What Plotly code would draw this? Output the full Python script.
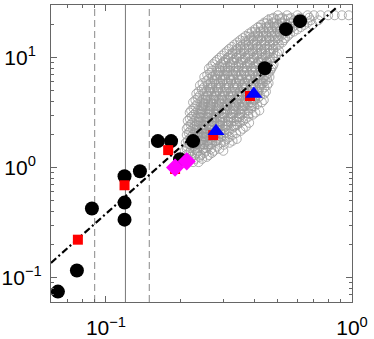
import plotly.graph_objects as go

# ---- data ----
black_x = [0.0638, 0.0762, 0.0877, 0.119, 0.119, 0.119, 0.1374, 0.1626, 0.184, 0.200, 0.226, 0.442, 0.539, 0.615]
black_y = [0.0746, 0.116, 0.424, 0.336, 0.48, 0.834, 0.925, 1.74, 1.74, 1.19, 1.74, 7.98, 18.1, 21.4]

red_x = [0.0769, 0.119, 0.179, 0.191, 0.273, 0.385]
red_y = [0.221, 0.69, 1.44, 0.97, 1.97, 4.47]

blue_x = [0.280, 0.399]
blue_y = [2.14, 4.66]

mag_x = [0.191, 0.213]
mag_y = [1.0, 1.14]

vline_dashed = [0.09, 0.15]
vline_solid = [0.12]

fit_coef = 38.0
fit_exp = 2.0
fit_x = [0.0598, 0.87]

grey_circle_rows = [
    (1.12, [0.226, 0.238]),
    (1.20, [0.216, 0.231, 0.246]),
    (1.25, [0.222, 0.240, 0.257]),
    (1.30, [0.212, 0.229, 0.243, 0.262]),
    (1.36, [0.218, 0.234, 0.251, 0.270]),
    (1.42, [0.209, 0.221, 0.236, 0.255, 0.275, 0.300]),
    (1.48, [0.213, 0.230, 0.248, 0.268, 0.289]),
    (1.55, [0.214, 0.227, 0.242, 0.261, 0.283]),
    (1.61, [0.219, 0.233, 0.250, 0.266, 0.301]),
    (1.68, [0.211, 0.224, 0.237, 0.252, 0.270, 0.292, 0.318]),
    (1.75, [0.215, 0.228, 0.243, 0.259, 0.279, 0.305, 0.327]),
    (1.82, [0.219, 0.233, 0.248, 0.266, 0.287, 0.310, 0.340]),
    (1.90, [0.222, 0.237, 0.254, 0.273, 0.294, 0.318]),
    (1.98, [0.213, 0.226, 0.241, 0.258, 0.277, 0.300, 0.327]),
    (2.06, [0.217, 0.231, 0.247, 0.264, 0.284, 0.308, 0.338]),
    (2.15, [0.220, 0.235, 0.251, 0.270, 0.292, 0.316, 0.352]),
    (2.25, [0.213, 0.226, 0.241, 0.257, 0.277, 0.298, 0.324, 0.360]),
    (2.35, [0.216, 0.229, 0.245, 0.263, 0.283, 0.305, 0.331, 0.370]),
    (2.45, [0.221, 0.234, 0.250, 0.269, 0.290, 0.313, 0.341]),
    (2.55, [0.224, 0.239, 0.256, 0.275, 0.297, 0.322, 0.350, 0.382]),
    (2.66, [0.215, 0.229, 0.244, 0.262, 0.282, 0.305, 0.331, 0.361]),
    (2.78, [0.219, 0.233, 0.249, 0.268, 0.289, 0.313, 0.340, 0.370]),
    (2.90, [0.223, 0.238, 0.255, 0.274, 0.296, 0.320, 0.348, 0.380]),
    (3.02, [0.227, 0.243, 0.261, 0.280, 0.303, 0.328, 0.357, 0.395]),
    (3.16, [0.219, 0.232, 0.248, 0.266, 0.287, 0.311, 0.337, 0.367, 0.405]),
    (3.30, [0.222, 0.237, 0.254, 0.273, 0.295, 0.319, 0.346, 0.378, 0.420]),
    (3.45, [0.227, 0.243, 0.260, 0.280, 0.303, 0.328, 0.356, 0.389]),
    (3.60, [0.231, 0.248, 0.267, 0.288, 0.311, 0.337, 0.366, 0.400]),
    (3.76, [0.235, 0.252, 0.273, 0.295, 0.320, 0.347, 0.377, 0.412]),
    (3.92, [0.226, 0.242, 0.260, 0.281, 0.304, 0.330, 0.358, 0.390, 0.430]),
    (4.10, [0.231, 0.247, 0.266, 0.288, 0.312, 0.338, 0.368, 0.402, 0.438]),
    (4.28, [0.236, 0.254, 0.274, 0.296, 0.321, 0.349, 0.380, 0.415]),
    (4.48, [0.240, 0.259, 0.280, 0.303, 0.328, 0.356, 0.388, 0.423]),
    (4.68, [0.233, 0.249, 0.268, 0.290, 0.314, 0.341, 0.371, 0.405, 0.440]),
    (4.90, [0.238, 0.256, 0.276, 0.298, 0.323, 0.350, 0.381, 0.415, 0.447]),
    (5.10, [0.245, 0.264, 0.285, 0.309, 0.335, 0.364, 0.396, 0.430]),
    (5.35, [0.250, 0.270, 0.292, 0.316, 0.342, 0.372, 0.405, 0.440]),
    (5.58, [0.241, 0.259, 0.280, 0.303, 0.329, 0.357, 0.388, 0.422, 0.452]),
    (5.85, [0.247, 0.266, 0.287, 0.311, 0.337, 0.366, 0.398, 0.433, 0.458]),
    (6.10, [0.256, 0.276, 0.298, 0.323, 0.350, 0.380, 0.413, 0.445]),
    (6.38, [0.261, 0.282, 0.305, 0.330, 0.358, 0.388, 0.422, 0.452]),
    (6.65, [0.251, 0.270, 0.292, 0.316, 0.343, 0.372, 0.405, 0.440, 0.462]),
    (6.95, [0.258, 0.278, 0.301, 0.326, 0.354, 0.384, 0.418, 0.449]),
    (7.25, [0.265, 0.286, 0.310, 0.336, 0.365, 0.397, 0.431, 0.458]),
    (7.60, [0.270, 0.292, 0.317, 0.344, 0.374, 0.406, 0.440, 0.466]),
    (7.95, [0.262, 0.281, 0.304, 0.330, 0.358, 0.390, 0.423, 0.470]),
    (8.30, [0.268, 0.289, 0.312, 0.338, 0.367, 0.399, 0.434, 0.476]),
    (8.70, [0.272, 0.294, 0.319, 0.346, 0.376, 0.409, 0.445, 0.480]),
    (9.10, [0.278, 0.300, 0.325, 0.352, 0.383, 0.416, 0.452]),
    (9.50, [0.283, 0.306, 0.332, 0.360, 0.392, 0.426, 0.462]),
    (9.95, [0.290, 0.313, 0.339, 0.368, 0.400, 0.435, 0.476]),
    (10.4, [0.296, 0.320, 0.347, 0.377, 0.410, 0.446, 0.490]),
    (10.9, [0.303, 0.327, 0.355, 0.386, 0.420, 0.457, 0.498]),
    (11.4, [0.310, 0.335, 0.363, 0.395, 0.430, 0.468, 0.505]),
    (11.95, [0.317, 0.343, 0.372, 0.405, 0.440, 0.478]),
    (12.5, [0.325, 0.352, 0.382, 0.415, 0.452, 0.490]),
    (13.1, [0.333, 0.361, 0.392, 0.426, 0.463, 0.505]),
    (13.7, [0.342, 0.371, 0.403, 0.438, 0.476, 0.520]),
    (14.35, [0.351, 0.380, 0.413, 0.449, 0.488, 0.528]),
    (15.0, [0.360, 0.390, 0.424, 0.460, 0.500, 0.535]),
    (15.7, [0.370, 0.401, 0.436, 0.473, 0.515, 0.548]),
    (16.5, [0.381, 0.413, 0.448, 0.487, 0.530, 0.560]),
    (17.2, [0.392, 0.425, 0.461, 0.501, 0.545, 0.580]),
    (18.0, [0.403, 0.437, 0.475, 0.515, 0.560, 0.600]),
    (18.9, [0.415, 0.450, 0.488, 0.530, 0.575, 0.620]),
    (19.8, [0.427, 0.463, 0.502, 0.545, 0.590, 0.640, 0.690]),
    (20.8, [0.440, 0.478, 0.518, 0.562, 0.610, 0.660]),
    (21.8, [0.455, 0.493, 0.535, 0.580, 0.630, 0.680, 0.730]),
    (23.0, [0.480, 0.520, 0.565, 0.615, 0.670]),
    (24.2, [0.500, 0.545, 0.600, 0.660, 0.700, 0.745, 0.800, 0.850, 0.910, 0.970]),
]

grey_square_rows = [
    (1.50, [0.235, 0.250]),
    (1.62, [0.228, 0.242, 0.258]),
    (1.75, [0.230, 0.245, 0.262, 0.280]),
    (1.90, [0.235, 0.250, 0.267, 0.286]),
    (2.05, [0.238, 0.254, 0.272, 0.293]),
    (2.22, [0.232, 0.247, 0.264, 0.283, 0.304]),
    (2.40, [0.234, 0.250, 0.268, 0.288, 0.310, 0.335]),
    (2.62, [0.238, 0.254, 0.272, 0.292, 0.315, 0.340]),
    (2.85, [0.241, 0.258, 0.277, 0.298, 0.322, 0.348]),
    (3.10, [0.243, 0.260, 0.280, 0.301, 0.325, 0.352, 0.380]),
    (3.35, [0.245, 0.263, 0.283, 0.305, 0.330, 0.357]),
    (3.60, [0.248, 0.266, 0.286, 0.308, 0.333, 0.360, 0.390]),
    (3.85, [0.250, 0.268, 0.289, 0.312, 0.338, 0.366, 0.395]),
    (4.15, [0.254, 0.273, 0.294, 0.317, 0.343, 0.371, 0.400]),
    (4.45, [0.258, 0.277, 0.298, 0.322, 0.348, 0.376, 0.405]),
    (4.85, [0.262, 0.282, 0.304, 0.328, 0.354, 0.383, 0.413]),
    (5.30, [0.266, 0.286, 0.308, 0.333, 0.360, 0.390, 0.420]),
    (5.80, [0.272, 0.292, 0.315, 0.340, 0.367, 0.397, 0.428]),
    (6.30, [0.277, 0.298, 0.321, 0.347, 0.375, 0.405, 0.435]),
    (6.90, [0.283, 0.305, 0.329, 0.355, 0.384, 0.415]),
    (7.50, [0.290, 0.312, 0.337, 0.364, 0.393, 0.425]),
    (8.20, [0.298, 0.321, 0.346, 0.374, 0.404, 0.437]),
    (9.00, [0.305, 0.329, 0.356, 0.385, 0.416, 0.450]),
    (9.90, [0.315, 0.340, 0.368, 0.398, 0.430, 0.465]),
    (10.9, [0.326, 0.352, 0.381, 0.412, 0.445, 0.480]),
    (11.9, [0.339, 0.366, 0.395, 0.427, 0.462]),
    (13.0, [0.352, 0.380, 0.410, 0.443, 0.478]),
    (14.2, [0.368, 0.397, 0.429, 0.463, 0.500]),
    (15.6, [0.385, 0.415, 0.448, 0.483]),
    (17.1, [0.405, 0.436, 0.471, 0.508]),
    (18.8, [0.425, 0.458, 0.494, 0.533]),
    (20.5, [0.448, 0.483, 0.520, 0.560]),
    (22.5, [0.470, 0.510, 0.550]),
]

NB = "\u00a0"
x_tickvals = [0.1, 1]
x_ticktext = ["10<sup>−1</sup>", "10<sup>0</sup>"]
y_tickvals = [0.1, 1, 10]
y_ticktext = ["10<sup>−1</sup>", "10<sup>0</sup>" + NB, "10<sup>1</sup>" + NB]
x_minor = [0.07, 0.08, 0.09, 0.2, 0.3, 0.4, 0.5, 0.6, 0.7, 0.8, 0.9]
y_minor = [0.07, 0.08, 0.09, 0.2, 0.3, 0.4, 0.5, 0.6, 0.7, 0.8, 0.9,
           2, 3, 4, 5, 6, 7, 8, 9, 20, 30]


def flatten(rows):
    xs, ys = [], []
    for yv, row in rows:
        for xv in row:
            xs.append(xv)
            ys.append(yv)
    return xs, ys


gc_x, gc_y = flatten(grey_circle_rows)
gs_x, gs_y = flatten(grey_square_rows)

GREY = "#9a9a9a"
fig = go.Figure()

fig.add_trace(go.Scatter(x=gc_x, y=gc_y, mode="markers",
                         marker=dict(symbol="circle-open", size=9, color=GREY, line=dict(width=0.8))))
fig.add_trace(go.Scatter(x=gs_x, y=gs_y, mode="markers",
                         marker=dict(symbol="square-open", size=8, color=GREY, line=dict(width=0.8))))

fit_y = [fit_coef * v ** fit_exp for v in fit_x]
fig.add_trace(go.Scatter(x=fit_x, y=fit_y, mode="lines",
                         line=dict(color="black", width=2.2, dash="7px,3px,2px,3px")))

fig.add_trace(go.Scatter(x=black_x, y=black_y, mode="markers",
                         marker=dict(symbol="circle", size=14, color="black")))
fig.add_trace(go.Scatter(x=red_x, y=red_y, mode="markers",
                         marker=dict(symbol="square", size=10, color="#ff0000")))
fig.add_trace(go.Scatter(x=mag_x, y=mag_y, mode="markers",
                         marker=dict(symbol="diamond", size=14, color="#ff00ff")))
fig.add_trace(go.Scatter(x=blue_x, y=blue_y, mode="markers",
                         marker=dict(symbol="triangle-up", size=15, color="#0000ff")))

for v in vline_dashed:
    fig.add_shape(type="line", x0=v, x1=v, y0=0, y1=1, xref="x", yref="paper",
                  line=dict(color="#888888", width=1, dash="7px,4px"), layer="below")
for v in vline_solid:
    fig.add_shape(type="line", x0=v, x1=v, y0=0, y1=1, xref="x", yref="paper",
                  line=dict(color="#777777", width=1), layer="below")

axis_common = dict(
    type="log", showgrid=False, zeroline=False, showline=True, linecolor="#666666", linewidth=1.3,
    mirror="allticks", ticks="inside", ticklen=6, tickcolor="#666666", automargin=False,
    tickfont=dict(family="Liberation Sans, Arial, sans-serif", size=21, color="black"),
)

fig.update_xaxes(range=[-1.2233, 0.0], tickvals=x_tickvals, ticktext=x_ticktext,
                 ticklabelstandoff=7,
                 minor=dict(tickvals=x_minor, ticks="inside", ticklen=3, tickcolor="#666666"),
                 **axis_common)
fig.update_yaxes(range=[-1.2218, 1.4771], tickvals=y_tickvals, ticktext=y_ticktext,
                 ticklabelstandoff=4,
                 minor=dict(tickvals=y_minor, ticks="inside", ticklen=3, tickcolor="#666666"),
                 **axis_common)

fig.update_layout(width=374, height=339, margin=dict(l=51, r=22, t=5, b=37),
                  plot_bgcolor="white", paper_bgcolor="white", showlegend=False)

fig.write_html("out.html", config={"displayModeBar": False},
               post_script="document.body.style.margin='0px';")
